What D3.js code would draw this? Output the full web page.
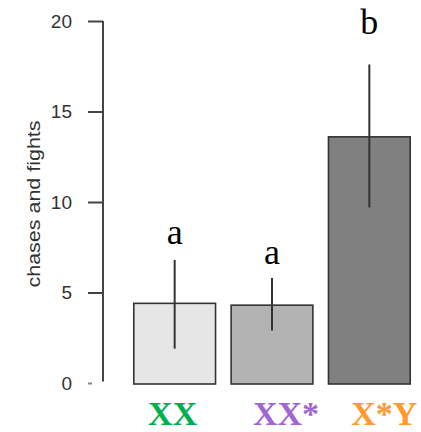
<!DOCTYPE html>
<html>
<head>
<meta charset="utf-8">
<script src="https://cdn.jsdelivr.net/npm/d3@7"></script>
<style>
html,body{margin:0;padding:0;background:#fff;}
svg{display:block;}
</style>
</head>
<body>
<svg id="chart" width="421" height="432"></svg>
<script>
const categories = ["XX", "XX*", "X*Y"];
const means = [4.4, 4.3, 13.6];
const errLow = [1.9, 2.9, 9.7];
const errHigh = [6.8, 5.8, 17.6];
const sigLetters = ["a", "a", "b"];
const sigLetterPos = [7.7, 6.6, 19.3];
const barFills = ["#e6e6e6", "#b3b3b3", "#808080"];
const labelColors = ["#00b050", "#a066d3", "#ff9a33"];
const yTicks = [0, 5, 10, 15, 20];
const yTitle = "chases and fights";

const svg = d3.select("#chart");

const y = d3.scaleLinear().domain([0, 20]).range([383, 21]);
const x = d3.scaleBand().domain(categories).range([126, 418]).paddingInner(0.16).paddingOuter(0.08);

// y axis
const axisX = 103;
const yAxis = d3.axisLeft(y).tickValues(yTicks).tickSize(15).tickPadding(16);
const gA = svg.append("g").attr("transform", `translate(${axisX},0)`).call(yAxis);
gA.select(".domain").remove();
gA.selectAll(".tick line").attr("stroke", "#444").attr("stroke-width", 2);
// bottom tick is mostly hidden in the reference
gA.selectAll(".tick").filter(d => d === 0).select("line")
  .attr("x1", -11).attr("x2", -15).attr("stroke", "#888");
gA.selectAll(".tick text").attr("font-family", "Liberation Sans, Arial, sans-serif").attr("font-size", 19).attr("fill", "#333");
gA.append("line").attr("x1", 0).attr("x2", 0).attr("y1", y(20)).attr("y2", y(0) - 1.5)
  .attr("stroke", "#444").attr("stroke-width", 2);

// y title
svg.append("text")
  .attr("transform", `translate(40,${(y(0)+y(20))/2 + 2}) rotate(-90) scale(1.13,1)`)
  .attr("text-anchor", "middle")
  .attr("font-family", "Liberation Sans, Arial, sans-serif")
  .attr("font-size", 19)
  .attr("fill", "#333")
  .text(yTitle);

// bars
svg.selectAll("rect.bar").data(categories).join("rect")
  .attr("class", "bar")
  .attr("x", d => x(d))
  .attr("width", x.bandwidth())
  .attr("y", (d, i) => y(means[i]))
  .attr("height", (d, i) => y(0) - y(means[i]) + 1)
  .attr("fill", (d, i) => barFills[i])
  .attr("stroke", "#333")
  .attr("stroke-width", 1.6);

// error bars
svg.selectAll("line.err").data(categories).join("line")
  .attr("class", "err")
  .attr("x1", d => x(d) + x.bandwidth() / 2)
  .attr("x2", d => x(d) + x.bandwidth() / 2)
  .attr("y1", (d, i) => y(errLow[i]))
  .attr("y2", (d, i) => y(errHigh[i]))
  .attr("stroke", "#333")
  .attr("stroke-width", 2);

// significance letters
svg.selectAll("text.sig").data(categories).join("text")
  .attr("class", "sig")
  .attr("x", d => x(d) + x.bandwidth() / 2)
  .attr("y", (d, i) => y(sigLetterPos[i]))
  .attr("text-anchor", "middle")
  .attr("font-family", "Liberation Serif, Times New Roman, serif")
  .attr("font-size", 36)
  .attr("fill", "#000")
  .text((d, i) => sigLetters[i]);

// category labels
const labelShift = [-2, 14, 15];
svg.selectAll("text.cat").data(categories).join("text")
  .attr("class", "cat")
  .attr("x", (d, i) => x(d) + x.bandwidth() / 2 + labelShift[i])
  .attr("y", 425)
  .attr("text-anchor", "middle")
  .attr("font-family", "Liberation Serif, Times New Roman, serif")
  .attr("font-weight", "bold")
  .attr("font-size", 34)
  .attr("fill", (d, i) => labelColors[i])
  .text(d => d);
</script>
</body>
</html>
